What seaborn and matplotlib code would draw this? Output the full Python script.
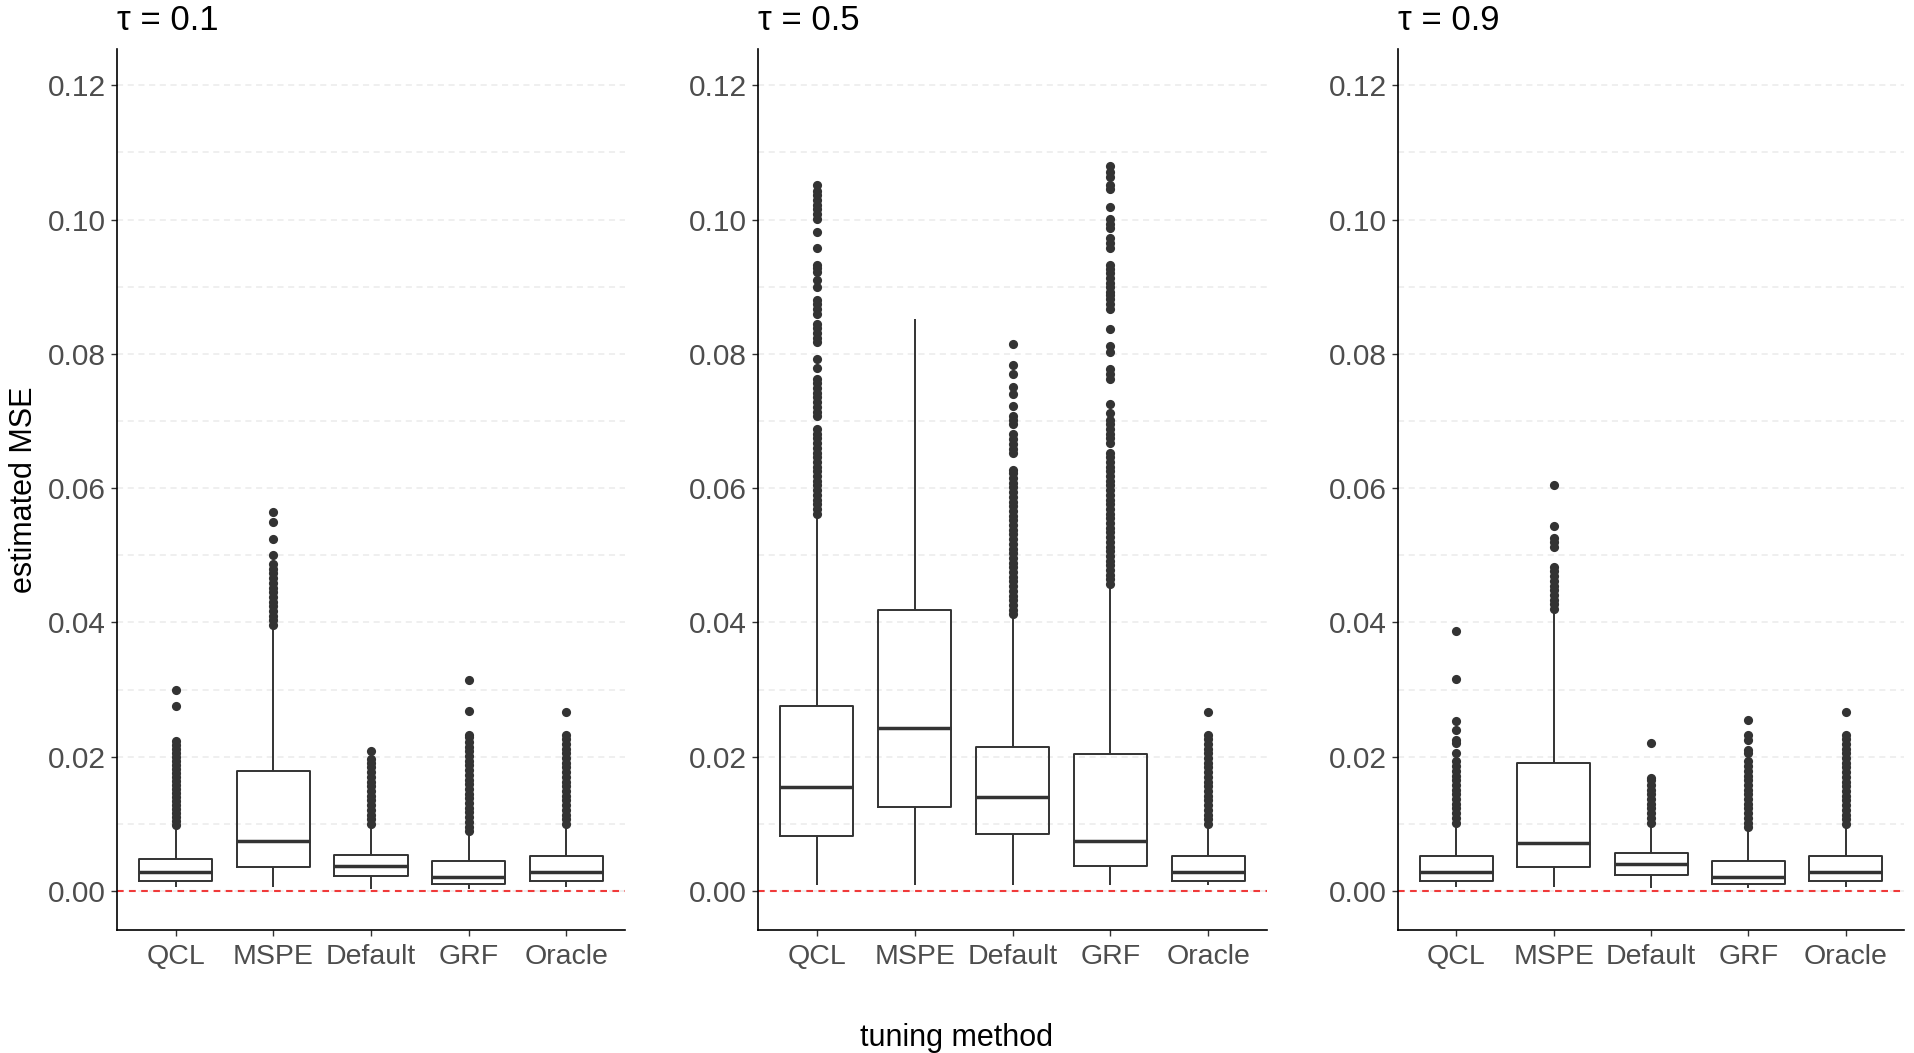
import pandas as pd
import seaborn as sns
import matplotlib.pyplot as plt

methods = ['QCL', 'MSPE', 'Default', 'GRF', 'Oracle']
taus = ['0.1', '0.5', '0.9']

# five-number summary per method (whisker low, q1, median, q3, whisker high)
lo_01 = [0.00055, 0.00065, 0.00035, 0.00035, 0.00055]
q1_01 = [0.0015, 0.0036, 0.0022, 0.0011, 0.0015]
med_01 = [0.0028, 0.0075, 0.0038, 0.0021, 0.0028]
q3_01 = [0.0047, 0.0179, 0.0054, 0.0045, 0.0052]
hi_01 = [0.0096, 0.0394, 0.0098, 0.0087, 0.0098]

lo_05 = [0.00084, 0.00084, 0.00084, 0.00084, 0.00084]
q1_05 = [0.0082, 0.0125, 0.0085, 0.0038, 0.0015]
med_05 = [0.0155, 0.0243, 0.0140, 0.0075, 0.0028]
q3_05 = [0.0275, 0.0418, 0.0215, 0.0204, 0.0052]
hi_05 = [0.0560, 0.0852, 0.0410, 0.0455, 0.0099]

lo_09 = [0.00065, 0.00065, 0.00045, 0.00045, 0.00055]
q1_09 = [0.0015, 0.0036, 0.0024, 0.0011, 0.0015]
med_09 = [0.0028, 0.0071, 0.0040, 0.0021, 0.0028]
q3_09 = [0.0052, 0.0191, 0.0056, 0.0045, 0.0052]
hi_09 = [0.0101, 0.0419, 0.0101, 0.0094, 0.0099]

# outliers
out_01_qcl = [0.0098, 0.0104, 0.0110, 0.0116, 0.0122, 0.0128, 0.0134, 0.0140, 0.0146, 0.0152,
              0.0158, 0.0164, 0.0170, 0.0176, 0.0182, 0.0188, 0.0194, 0.0200, 0.0206, 0.0212,
              0.0218, 0.0224, 0.0275, 0.0300]
out_01_mspe = [0.0396, 0.0403, 0.0410, 0.0417, 0.0424, 0.0431, 0.0438, 0.0445, 0.0452, 0.0459,
               0.0466, 0.0473, 0.0480, 0.0487, 0.0500, 0.0525, 0.0550, 0.0565]
out_01_default = [0.0100, 0.0107, 0.0114, 0.0121, 0.0128, 0.0135, 0.0142, 0.0149, 0.0156, 0.0163,
                  0.0170, 0.0177, 0.0184, 0.0191, 0.0196, 0.0208]
out_01_grf = [0.0089, 0.0096, 0.0103, 0.0110, 0.0117, 0.0124, 0.0131, 0.0138, 0.0145, 0.0152,
              0.0159, 0.0166, 0.0173, 0.0180, 0.0187, 0.0194, 0.0201, 0.0208, 0.0215, 0.0222,
              0.0229, 0.0233, 0.0268, 0.0315]
out_01_oracle = [0.0100, 0.0107, 0.0114, 0.0121, 0.0128, 0.0135, 0.0142, 0.0149, 0.0156, 0.0163,
                 0.0170, 0.0177, 0.0184, 0.0191, 0.0198, 0.0205, 0.0212, 0.0219, 0.0226, 0.0233,
                 0.0266]

out_05_qcl = [0.0562, 0.0569, 0.0576, 0.0583, 0.0590, 0.0597, 0.0604, 0.0611, 0.0618, 0.0625,
              0.0632, 0.0639, 0.0646, 0.0653, 0.0660, 0.0667, 0.0674, 0.0681, 0.0688, 0.0707,
              0.0714, 0.0721, 0.0728, 0.0735, 0.0742, 0.0749, 0.0756, 0.0762, 0.0779, 0.0792,
              0.0817, 0.0824, 0.0831, 0.0838, 0.0845, 0.0860, 0.0867, 0.0874, 0.0880, 0.0900,
              0.0910, 0.0922, 0.0928, 0.0932, 0.0958, 0.0982, 0.1001, 0.1008, 0.1015, 0.1022,
              0.1029, 0.1036, 0.1043, 0.1051]
out_05_mspe = []
out_05_default = [0.0412, 0.0419, 0.0426, 0.0433, 0.0440, 0.0447, 0.0454, 0.0461, 0.0468, 0.0475,
                  0.0482, 0.0489, 0.0496, 0.0503, 0.0510, 0.0517, 0.0524, 0.0531, 0.0538, 0.0545,
                  0.0552, 0.0559, 0.0566, 0.0573, 0.0580, 0.0587, 0.0594, 0.0601, 0.0608, 0.0615,
                  0.0622, 0.0627, 0.0652, 0.0659, 0.0666, 0.0673, 0.0680, 0.0695, 0.0701, 0.0707,
                  0.0722, 0.0740, 0.0750, 0.0770, 0.0783, 0.0815]
out_05_grf = [0.0457, 0.0464, 0.0471, 0.0478, 0.0485, 0.0492, 0.0499, 0.0506, 0.0513, 0.0520,
              0.0527, 0.0534, 0.0541, 0.0548, 0.0555, 0.0562, 0.0569, 0.0576, 0.0583, 0.0590,
              0.0597, 0.0604, 0.0611, 0.0618, 0.0625, 0.0632, 0.0639, 0.0646, 0.0652, 0.0667,
              0.0674, 0.0681, 0.0688, 0.0695, 0.0702, 0.0712, 0.0725, 0.0762, 0.0770, 0.0777,
              0.0802, 0.0812, 0.0837, 0.0867, 0.0874, 0.0881, 0.0887, 0.0892, 0.0899, 0.0906,
              0.0913, 0.0920, 0.0927, 0.0932, 0.0957, 0.0965, 0.0972, 0.0987, 0.0994, 0.1001,
              0.1019, 0.1046, 0.1051, 0.1064, 0.1071, 0.1079]
out_05_oracle = [0.0100, 0.0107, 0.0114, 0.0121, 0.0128, 0.0135, 0.0142, 0.0149, 0.0156, 0.0163,
                 0.0170, 0.0177, 0.0184, 0.0191, 0.0198, 0.0205, 0.0212, 0.0219, 0.0226, 0.0233,
                 0.0266]

out_09_qcl = [0.0102, 0.0109, 0.0116, 0.0123, 0.0130, 0.0137, 0.0144, 0.0151, 0.0158, 0.0165,
              0.0172, 0.0179, 0.0186, 0.0193, 0.0205, 0.0220, 0.0225, 0.0240, 0.0253, 0.0316,
              0.0387]
out_09_mspe = [0.0420, 0.0427, 0.0434, 0.0441, 0.0448, 0.0455, 0.0462, 0.0469, 0.0476, 0.0483,
               0.0513, 0.0520, 0.0526, 0.0544, 0.0605]
out_09_default = [0.0102, 0.0109, 0.0116, 0.0123, 0.0130, 0.0137, 0.0144, 0.0151, 0.0158, 0.0165,
                  0.0169, 0.0220]
out_09_grf = [0.0095, 0.0102, 0.0109, 0.0116, 0.0123, 0.0130, 0.0137, 0.0144, 0.0151, 0.0158,
              0.0165, 0.0172, 0.0179, 0.0186, 0.0193, 0.0205, 0.0210, 0.0225, 0.0233, 0.0254]
out_09_oracle = [0.0100, 0.0107, 0.0114, 0.0121, 0.0128, 0.0135, 0.0142, 0.0149, 0.0156, 0.0163,
                 0.0170, 0.0177, 0.0184, 0.0191, 0.0198, 0.0205, 0.0212, 0.0219, 0.0226, 0.0233,
                 0.0267]

y_ticks = [0.00, 0.02, 0.04, 0.06, 0.08, 0.10, 0.12]
y_minor = [0.01, 0.03, 0.05, 0.07, 0.09, 0.11]

summaries = {
    '0.1': [lo_01, q1_01, med_01, q3_01, hi_01],
    '0.5': [lo_05, q1_05, med_05, q3_05, hi_05],
    '0.9': [lo_09, q1_09, med_09, q3_09, hi_09],
}
outliers = {
    '0.1': [out_01_qcl, out_01_mspe, out_01_default, out_01_grf, out_01_oracle],
    '0.5': [out_05_qcl, out_05_mspe, out_05_default, out_05_grf, out_05_oracle],
    '0.9': [out_09_qcl, out_09_mspe, out_09_default, out_09_grf, out_09_oracle],
}

sns.set_theme(style='white')
plt.rcParams['font.family'] = ['Liberation Sans', 'DejaVu Sans']

fig = plt.figure(figsize=(19.14, 10.53), dpi=100)
lefts = [0.0611, 0.3960, 0.7304]
widths = [0.2654, 0.2660, 0.2644]

dark = '#333333'

for i, tau in enumerate(taus):
    ax = fig.add_axes([lefts[i], 0.1168, widths[i], 0.8367])

    # box data: the five summary values for each method (whiskers at min/max)
    rows = []
    for j, m in enumerate(methods):
        for stat in summaries[tau]:
            rows.append({'method': m, 'value': stat[j]})
    box_df = pd.DataFrame(rows)

    out_rows = []
    for j, m in enumerate(methods):
        for v in outliers[tau][j]:
            out_rows.append({'method': m, 'value': v})
    out_df = pd.DataFrame(out_rows)

    ax.axhline(0, color='#F03A3A', linestyle=(0, (3.2, 2.6)), linewidth=1.5, zorder=1.5)

    sns.boxplot(data=box_df, x='method', y='value', order=methods, ax=ax,
                whis=(0, 100), showfliers=False, showcaps=False, fill=False,
                color=dark, width=0.75, linewidth=1.4,
                medianprops={'linewidth': 2.5, 'color': dark})
    sns.stripplot(data=out_df, x='method', y='value', order=methods, ax=ax,
                  jitter=False, color=dark, size=6.6, linewidth=0, zorder=3)

    ax.set_xlim(-0.6, 4.6)
    ax.set_ylim(-0.0058, 0.1254)
    ax.set_yticks(y_ticks)
    ax.set_yticks(y_minor, minor=True)
    ax.set_yticklabels([f'{t:.2f}' for t in y_ticks])
    ax.grid(axis='y', which='both', color='#EBEBEB', linestyle=(0, (4, 3)), linewidth=1.1)
    ax.set_axisbelow(True)

    sns.despine(ax=ax)
    for side in ['left', 'bottom']:
        ax.spines[side].set_color('black')
        ax.spines[side].set_linewidth(1.2)

    ax.tick_params(axis='both', which='major', length=4, width=1, color=dark,
                   colors='#4D4D4D', direction='out', left=True, bottom=True)
    ax.tick_params(axis='y', which='minor', length=0)
    ax.tick_params(axis='y', labelsize=21.5, pad=4)
    ax.tick_params(axis='x', labelsize=20.5, pad=6)
    ax.set_xlabel('')
    ax.set_ylabel('')
    ax.text(0.0, 1.0216, f'τ = {tau}', transform=ax.transAxes, ha='left', va='baseline',
            fontsize=25, color='black')

fig.text(0.0125, 0.535, 'estimated MSE', rotation=90, ha='center', va='center',
         fontsize=22, color='black')
fig.text(0.5, 0.014, 'tuning method', ha='center', va='center', fontsize=22, color='black')

fig.savefig('out.png', dpi=100)
